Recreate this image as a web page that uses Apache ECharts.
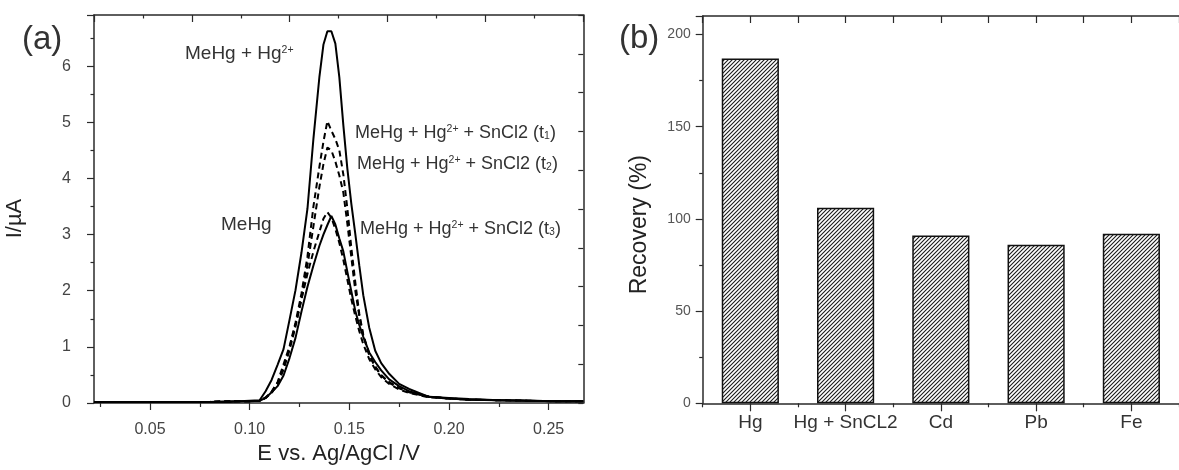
<!DOCTYPE html>
<html><head><meta charset="utf-8">
<script src="https://cdn.jsdelivr.net/npm/echarts@6/dist/echarts.min.js"></script>
<style>html,body{margin:0;padding:0;background:#fff;}#c{width:1179px;height:470px;}</style>
</head><body><div id="c"></div>
<script>
// ---------- data: panel (a) voltammograms ----------
const potentialV = [0.022,0.04,0.06,0.08,0.09,0.095,0.100,0.105,0.108,0.111,0.114,0.117,0.120,0.123,0.126,0.129,0.132,0.135,0.137,0.139,0.141,0.143,0.145,0.147,0.149,0.151,0.153,0.155,0.157,0.160,0.163,0.166,0.170,0.175,0.180,0.190,0.200,0.210,0.225,0.240,0.255,0.2674];
const currentMeHgHg = [0.02,0.02,0.02,0.02,0.03,0.03,0.04,0.05,0.21,0.41,0.68,0.96,1.48,2.01,2.68,3.46,4.71,5.81,6.38,6.62,6.62,6.40,5.80,4.95,4.18,3.55,3.01,2.45,1.92,1.34,0.93,0.71,0.52,0.34,0.25,0.11,0.09,0.07,0.05,0.04,0.03,0.03];
const currentT1 = [0.02,0.02,0.02,0.02,0.03,0.03,0.03,0.04,0.10,0.20,0.37,0.69,1.01,1.43,1.95,2.61,3.50,4.21,4.65,5.02,4.85,4.70,4.50,4.07,3.47,2.77,2.15,1.59,1.22,0.87,0.65,0.50,0.37,0.27,0.20,0.11,0.08,0.06,0.05,0.04,0.03,0.03];
const currentT2 = [0.02,0.02,0.02,0.02,0.03,0.03,0.03,0.04,0.09,0.18,0.33,0.60,0.94,1.36,1.85,2.45,3.15,3.85,4.25,4.55,4.50,4.30,4.05,3.75,3.20,2.60,2.00,1.55,1.20,0.85,0.64,0.49,0.36,0.26,0.19,0.11,0.08,0.06,0.05,0.04,0.03,0.03];
const currentT3 = [0.02,0.02,0.02,0.02,0.03,0.03,0.03,0.04,0.09,0.20,0.36,0.62,0.98,1.40,1.85,2.30,2.70,3.05,3.28,3.40,3.30,3.10,2.85,2.55,2.20,1.85,1.55,1.28,1.05,0.78,0.60,0.46,0.34,0.24,0.18,0.10,0.08,0.06,0.05,0.04,0.03,0.03];
const currentMeHg = [0.02,0.02,0.02,0.02,0.02,0.03,0.03,0.04,0.09,0.19,0.30,0.49,0.80,1.16,1.63,2.07,2.45,2.80,3.00,3.17,3.33,3.18,2.93,2.70,2.34,1.99,1.64,1.39,1.18,0.90,0.73,0.58,0.42,0.30,0.21,0.11,0.08,0.06,0.05,0.04,0.03,0.03];
const potentialTicks = [0.05,0.10,0.15,0.20,0.25];
const potentialMinorTicks = [0.025,0.075,0.125,0.175,0.225];

// ---------- data: panel (b) recovery ----------
const recoveryCategories = ['Hg','Hg + SnCL2','Cd','Pb','Fe'];
const recoveryValues = [187,106,91,86,92];

const FONT = "'Liberation Sans', Arial, Helvetica, sans-serif";
const AX = '#2a2a2a';
const pair = arr => potentialV.map((e, i) => [e, arr[i]]);

// hatch pattern
const pc = document.createElement('canvas');
pc.width = 4; pc.height = 4;
const g = pc.getContext('2d');
g.fillStyle = '#fff'; g.fillRect(0, 0, 4, 4);
g.strokeStyle = '#1a1a1a'; g.lineWidth = 1.1;
g.beginPath();
g.moveTo(-1, 5); g.lineTo(5, -1);
g.moveTo(-1, 1); g.lineTo(1, -1);
g.moveTo(3, 5); g.lineTo(5, 3);
g.stroke();

const chart = echarts.init(document.getElementById('c'), null, {renderer: 'canvas'});

const lineSeries = (name, arr, dashed) => ({
  name, type: 'line', xAxisIndex: 0, yAxisIndex: 0, data: pair(arr),
  showSymbol: false, symbol: 'none', smooth: false, animation: false,
  lineStyle: {color: '#000', width: 2, type: dashed ? [6, 4] : 'solid'}
});

const supText = (txt, x, y, size) => ({
  type: 'text', x, y, silent: true,
  style: {
    text: txt, fill: '#333', fontSize: size, fontFamily: FONT,
    align: 'left', verticalAlign: 'middle',
    rich: {
      sup: {fontSize: 10.5, fontFamily: FONT, fill: '#333', verticalAlign: 'top'},
      sub: {fontSize: 10.5, fontFamily: FONT, fill: '#333', verticalAlign: 'bottom'}
    }
  }
});

const option = {
  animation: false,
  backgroundColor: '#fff',
  textStyle: {fontFamily: FONT},
  grid: [
    {left: 94, top: 15, width: 489.3, height: 391, containLabel: false},
    {left: 702.7, top: 16, width: 487, height: 387.3, containLabel: false}
  ],
  xAxis: [
    { // (a) bottom
      type: 'value', gridIndex: 0, position: 'bottom', min: 0.0219, max: 0.2674,
      axisLine: {show: true, lineStyle: {color: AX, width: 1.5}},
      axisTick: {show: true, customValues: potentialTicks, length: 7, lineStyle: {color: AX, width: 1.2}},
      axisLabel: {customValues: potentialTicks, formatter: v => v.toFixed(2), fontSize: 16, color: '#444', margin: 19, fontFamily: FONT},
      splitLine: {show: false},
      name: 'E vs. Ag/AgCl /V', nameLocation: 'middle', nameGap: 40,
      nameTextStyle: {fontSize: 22, color: '#222', fontFamily: FONT}
    },
    { // (a) bottom minor ticks
      type: 'value', gridIndex: 0, position: 'bottom', min: 0.0219, max: 0.2674,
      axisLine: {show: false},
      axisTick: {show: true, customValues: potentialMinorTicks, length: 4, lineStyle: {color: AX, width: 1.2}},
      axisLabel: {show: false}, splitLine: {show: false}
    },
    { // (a) top frame
      type: 'value', gridIndex: 0, position: 'top', min: 0, max: 10, interval: 2,
      axisLine: {show: true, lineStyle: {color: AX, width: 1.5}},
      axisTick: {show: true, inside: true, length: 7, lineStyle: {color: AX, width: 1.2}},
      minorTick: {show: true, splitNumber: 2, length: 3.5, lineStyle: {color: AX, width: 1.2}},
      axisLabel: {show: false}, splitLine: {show: false}, minorSplitLine: {show: false}
    },
    { // (b) bottom categories
      type: 'category', gridIndex: 1, position: 'bottom', data: recoveryCategories,
      axisLine: {show: true, lineStyle: {color: AX, width: 1.5}},
      axisTick: {show: true, alignWithLabel: true, length: 8, interval: 0, lineStyle: {color: AX, width: 1.2}},
      axisLabel: {interval: 0, hideOverlap: false, fontSize: 19, color: '#333', margin: 10, fontFamily: FONT},
      splitLine: {show: false}
    },
    { // (b) bottom boundary ticks
      type: 'value', gridIndex: 1, position: 'bottom', min: 0, max: 5, interval: 1,
      axisLine: {show: false},
      axisTick: {show: true, length: 4, lineStyle: {color: AX, width: 1.2}},
      axisLabel: {show: false}, splitLine: {show: false}
    },
    { // (b) top frame
      type: 'value', gridIndex: 1, position: 'top', min: 0, max: 5, interval: 0.5,
      axisLine: {show: true, lineStyle: {color: AX, width: 1.5}},
      axisTick: {show: true, inside: true, length: 7, lineStyle: {color: AX, width: 1.2}},
      axisLabel: {show: false}, splitLine: {show: false}
    }
  ],
  yAxis: [
    { // (a) left
      type: 'value', gridIndex: 0, position: 'left', min: 0, max: 6.91, interval: 1,
      axisLine: {show: true, lineStyle: {color: AX, width: 1.5}},
      axisTick: {show: true, length: 7, lineStyle: {color: AX, width: 1.2}},
      minorTick: {show: true, splitNumber: 2, length: 3.5, lineStyle: {color: AX, width: 1.2}},
      axisLabel: {fontSize: 16, color: '#444', margin: 23, showMaxLabel: false, fontFamily: FONT},
      splitLine: {show: false}, minorSplitLine: {show: false},
      name: 'I/\u00b5A', nameLocation: 'middle', nameGap: 68,
      nameTextStyle: {fontSize: 22, color: '#222', padding: [0, 19, 0, 0], fontFamily: FONT}
    },
    { // (a) right frame
      type: 'value', gridIndex: 0, position: 'right', min: 0, max: 10, interval: 1,
      axisLine: {show: true, lineStyle: {color: AX, width: 1.5}},
      axisTick: {show: true, inside: true, length: 5, lineStyle: {color: AX, width: 1.2}},
      axisLabel: {show: false}, splitLine: {show: false}
    },
    { // (b) left
      type: 'value', gridIndex: 1, position: 'left', min: 0, max: 210, interval: 50,
      axisLine: {show: true, lineStyle: {color: AX, width: 1.5}},
      axisTick: {show: true, length: 7, lineStyle: {color: AX, width: 1.2}},
      minorTick: {show: true, splitNumber: 2, length: 3.5, lineStyle: {color: AX, width: 1.2}},
      axisLabel: {fontSize: 14, color: '#555', margin: 12, showMaxLabel: false, fontFamily: FONT},
      splitLine: {show: false}, minorSplitLine: {show: false},
      name: 'Recovery (%)', nameLocation: 'middle', nameGap: 52,
      nameTextStyle: {fontSize: 23, color: '#222', padding: [0, 30, 0, 0], fontFamily: FONT}
    }
  ],
  series: [
    lineSeries('MeHg + Hg2+', currentMeHgHg, false),
    lineSeries('t1', currentT1, true),
    lineSeries('t2', currentT2, true),
    lineSeries('t3', currentT3, true),
    lineSeries('MeHg', currentMeHg, false),
    {
      name: 'Recovery', type: 'bar', xAxisIndex: 3, yAxisIndex: 2, data: recoveryValues,
      barWidth: '60%',
      itemStyle: {color: {image: pc, repeat: 'repeat'}, borderColor: '#111', borderWidth: 1.5}
    }
  ],
  graphic: [
    {type: 'text', x: 22, y: 40, silent: true, style: {text: '(a)', fontSize: 33, fontFamily: FONT, fill: '#333', align: 'left', verticalAlign: 'middle'}},
    {type: 'text', x: 619, y: 39, silent: true, style: {text: '(b)', fontSize: 33, fontFamily: FONT, fill: '#333', align: 'left', verticalAlign: 'middle'}},
    supText('MeHg + Hg{sup|2+}', 185, 54, 19),
    supText('MeHg + Hg{sup|2+} + SnCl2 (t{sub|1})', 355, 133, 18),
    supText('MeHg + Hg{sup|2+} + SnCl2 (t{sub|2})', 357, 164, 18),
    supText('MeHg + Hg{sup|2+} + SnCl2 (t{sub|3})', 360, 229, 18),
    supText('MeHg', 221, 225, 19)
  ]
};
chart.setOption(option);
</script>
</body></html>
